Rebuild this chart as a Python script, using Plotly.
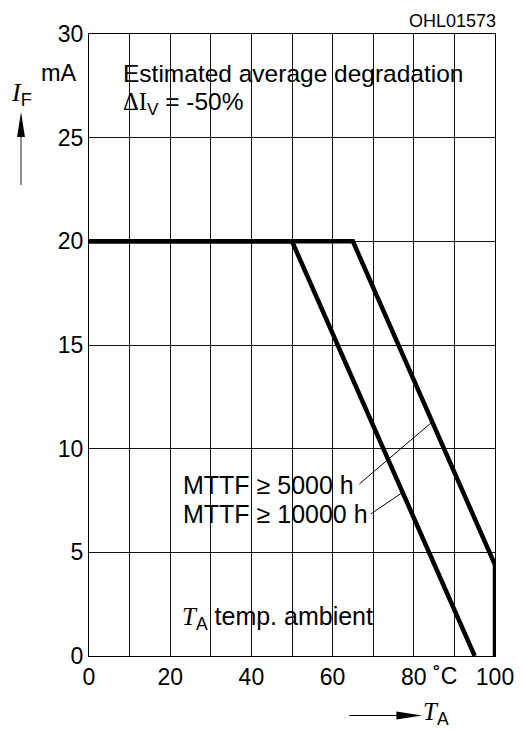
import plotly.graph_objects as go

# Permissible forward current vs. ambient temperature
temp_10000h = [0, 50, 95]
curr_10000h = [20, 20, 0]
temp_5000h = [0, 65, 100, 100]
curr_5000h = [20, 20, 4.4, 0]

x_grid = list(range(0, 101, 10))
x_labels = ["0", "", "20", "", "40", "", "60", "", "80", "", "100"]
y_grid = [0, 5, 10, 15, 20, 25, 30]
y_labels = ["0", "5", "10", "15", "20", "25", "30"]

W, H = 526, 730
L, R, T, B = 89, 501, 34, 656
SANS = "Liberation Sans, Arial, sans-serif"
SERIF = "Liberation Serif, Times New Roman, serif"


def px(x):
    return (x - L) / (R - L)


def py(y):
    return (B - y) / (B - T)


fig = go.Figure()
line_style = dict(color="black", width=4.5)
fig.add_trace(go.Scatter(x=temp_10000h, y=curr_10000h, mode="lines", line=line_style,
                         showlegend=False, hoverinfo="skip"))
fig.add_trace(go.Scatter(x=temp_5000h, y=curr_5000h, mode="lines", line=line_style,
                         showlegend=False, hoverinfo="skip"))

shapes = []
# white boxes behind the text blocks (between grid and traces)
for x0, y0, x1, y1 in [(102, 50, 490, 122), (178, 601, 377, 641), (178, 463, 377, 538)]:
    shapes.append(dict(type="rect", xref="paper", yref="paper", layer="between",
                       x0=px(x0), x1=px(x1), y0=py(y1), y1=py(y0),
                       fillcolor="white", line=dict(width=0)))

# leader lines from the labels to their curves
shapes.append(dict(type="line", xref="x", yref="y", x0=66.6, y0=8.3, x1=84.6, y1=11.3,
                   line=dict(color="black", width=1), layer="above"))
shapes.append(dict(type="line", xref="x", yref="y", x0=69.4, y0=6.85, x1=77.3, y1=7.9,
                   line=dict(color="black", width=1), layer="above"))

# axis arrows
shapes.append(dict(type="line", xref="paper", yref="paper", x0=px(20), x1=px(20),
                   y0=py(185), y1=py(130), line=dict(color="#444", width=1.2)))
shapes.append(dict(type="path", xref="paper", yref="paper", fillcolor="black",
                   line=dict(width=0),
                   path=f"M {px(20)} {py(112)} L {px(16)} {py(137)} L {px(24)} {py(137)} Z"))
shapes.append(dict(type="line", xref="paper", yref="paper", x0=px(353), x1=px(410),
                   y0=py(715.5), y1=py(715.5), line=dict(color="black", width=1.2)))
shapes.append(dict(type="path", xref="paper", yref="paper", fillcolor="black",
                   line=dict(width=0),
                   path=f"M {px(427)} {py(715.5)} L {px(401)} {py(711.5)} L {px(401)} {py(719.5)} Z"))

ann = []


def note(text, x, y, xanchor="left", size=24.5, family=SANS):
    ann.append(dict(text=text, xref="paper", yref="paper", x=px(x), y=py(y),
                    xanchor=xanchor, yanchor="middle", showarrow=False,
                    font=dict(family=family, size=size, color="black")))


note("Estimated average degradation", 121, 73)
note(f"<span style='font-family:{SERIF}'>ΔI</span><sub>V</sub> = -50%", 121, 104)
note("MTTF ≥ 5000 h", 182, 485, size=25)
note("MTTF ≥ 10000 h", 182, 514, size=25)
note(f"<span style='font-family:{SERIF}'><i>T</i></span><sub>A</sub> temp. ambient", 181, 618, size=25)
note("mA", 79, 73, xanchor="right", size=23.5)
note("˚C", 450, 676, xanchor="center", size=23)
note("OHL01573", 504, 21, xanchor="right", size=18)
note(f"<span style='font-family:{SERIF}'><i>I</i></span><sub>F</sub>", 8, 94, size=26)
note(f"<span style='font-family:{SERIF}'><i>T</i></span><sub>A</sub>", 426, 713, size=25)

fig.update_layout(
    width=W, height=H,
    margin=dict(l=L, r=W - R, t=T, b=H - B),
    plot_bgcolor="white", paper_bgcolor="white",
    shapes=shapes, annotations=ann,
    font=dict(family=SANS, size=23, color="black"),
)
fig.update_xaxes(range=[0, 100], tickvals=x_grid, ticktext=x_labels, showgrid=True,
                 gridcolor="#111", gridwidth=1, zeroline=False, showline=True,
                 linecolor="black", linewidth=1, mirror=True, ticks="",
                 tickfont=dict(family=SANS, size=23, color="black"))
fig.update_yaxes(range=[0, 30], tickvals=y_grid, ticktext=y_labels, showgrid=True,
                 gridcolor="#111", gridwidth=1, zeroline=False, showline=True,
                 linecolor="black", linewidth=1, mirror=True, ticks="",
                 tickfont=dict(family=SANS, size=23, color="black"))

fig.write_html("out.html")
